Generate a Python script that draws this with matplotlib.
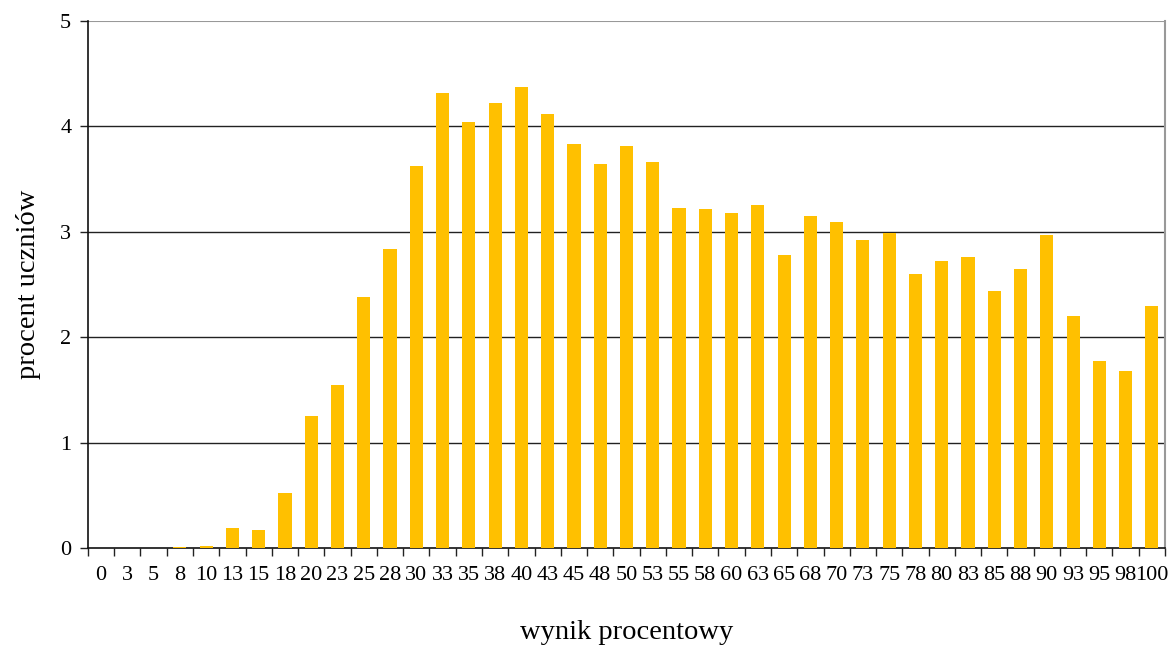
import matplotlib
matplotlib.use("Agg")
import matplotlib.pyplot as plt
import numpy as np

categories = ["0", "3", "5", "8", "10", "13", "15", "18", "20", "23", "25", "28", "30", "33",
              "35", "38", "40", "43", "45", "48", "50", "53", "55", "58", "60", "63", "65",
              "68", "70", "73", "75", "78", "80", "83", "85", "88", "90", "93", "95", "98", "100"]
values = [0, 0, 0, 0.005, 0.02, 0.19, 0.17, 0.52, 1.25, 1.55, 2.38, 2.84, 3.62, 4.32,
          4.04, 4.22, 4.37, 4.12, 3.83, 3.64, 3.81, 3.66, 3.23, 3.22, 3.18, 3.25, 2.78,
          3.15, 3.09, 2.92, 2.99, 2.60, 2.72, 2.76, 2.44, 2.65, 2.97, 2.20, 1.77, 1.68, 2.30]
y_ticks = [0, 1, 2, 3, 4, 5]

plt.rcParams['font.family'] = ['Liberation Serif', 'DejaVu Serif']

fig = plt.figure(figsize=(11.71, 6.51), dpi=100)
ax = fig.add_axes([0.0751, 0.1582, 0.9949 - 0.0751, 0.9677 - 0.1582])

x = np.arange(len(categories))
ax.bar(x, values, width=0.5, color="#FFC000", zorder=3)

ax.set_xlim(-0.5, len(categories) - 0.5)
ax.set_ylim(0, 5)
ax.set_yticks(y_ticks)
ax.set_yticklabels([str(t) for t in y_ticks], fontsize=16)
for t in y_ticks[1:-1]:
    ax.axhline(t, color="#222222", lw=1.0, zorder=1)
ax.axhline(5, color="#999999", lw=1.5, zorder=1)

ax.set_xticks(x)
ax.set_xticklabels(categories, fontsize=16)
ax.tick_params(axis='x', length=0, pad=13)
ax.set_xticks(np.arange(-0.5, len(categories)), minor=True)
ax.tick_params(axis='x', which='minor', length=6, width=1, direction='out', color='#222222')
ax.tick_params(axis='y', length=6, width=1, direction='out', pad=6, color='#222222')

for s in ['left', 'bottom']:
    ax.spines[s].set_color('#111111')
    ax.spines[s].set_linewidth(1.2)
ax.spines['top'].set_visible(False)
ax.spines['right'].set_color('#999999')
ax.spines['right'].set_linewidth(1.5)

ax.set_xlabel("wynik procentowy", fontsize=20.5, labelpad=25.5)
ax.set_ylabel("procent uczniów", fontsize=20.5, labelpad=13.5)

fig.savefig("out.png", dpi=100)
